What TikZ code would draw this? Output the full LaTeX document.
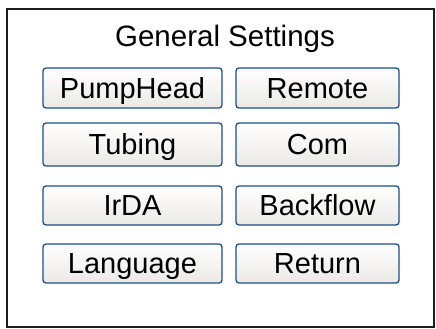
\documentclass[tikz,border=0pt]{standalone}
\usepackage{fontspec}
\setmainfont{Liberation Sans}
\definecolor{btnborder}{RGB}{28,78,138}
\definecolor{btnbottom}{RGB}{234,233,228}
\definecolor{framecol}{RGB}{30,30,30}
\tikzset{
  btn/.style={draw=btnborder, line width=1.3pt, rounded corners=3pt,
    top color=white, bottom color=btnbottom, minimum height=40pt,
    text height=20pt, text depth=0pt, inner sep=0pt,
    font=\fontsize{29}{29}\selectfont},
  btnL/.style={btn, minimum width=179pt},
  btnR/.style={btn, minimum width=163pt},
  titletext/.style={font=\fontsize{29.5}{29.5}\selectfont, inner sep=0pt, anchor=base}
}
\begin{document}
\begin{tikzpicture}[x=1pt,y=-1pt]
\useasboundingbox (0,0) rectangle (436,329);
\draw[framecol, line width=2pt] (7,9) rectangle (434,327);
\node[titletext] (title) at (225,47) {General Settings};
\node[btnL] (pumphead) at (132.5,88) {PumpHead};
\node[btnR] (remote) at (317.5,88) {Remote};
\node[btnL, minimum height=43pt] (tubing) at (132.5,144.5) {Tubing};
\node[btnR, minimum height=43pt] (com) at (317.5,144.5) {Com};
\node[btnL, minimum height=39pt] (irda) at (132.5,205.5) {IrDA};
\node[btnR, minimum height=39pt] (backflow) at (317.5,205.5) {Backflow};
\node[btnL, minimum height=39pt] (language) at (132.5,263.5) {Language};
\node[btnR, minimum height=39pt] (return) at (317.5,263.5) {Return};
\end{tikzpicture}
\end{document}
